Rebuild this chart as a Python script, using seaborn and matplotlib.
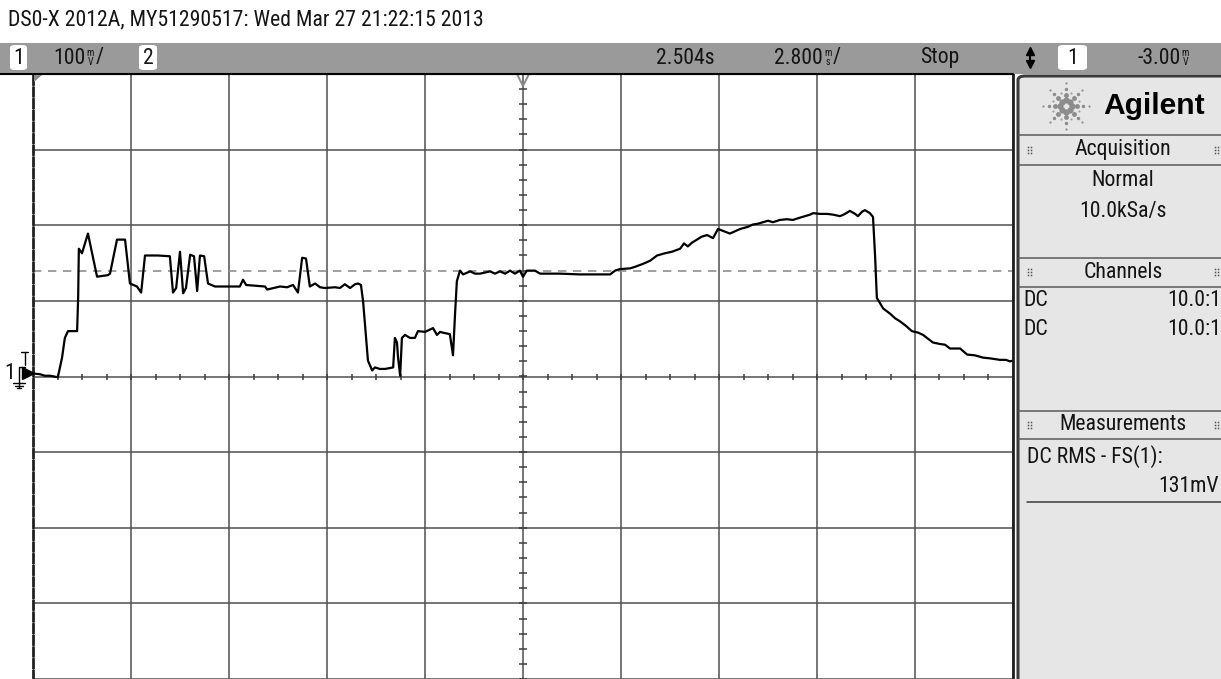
import numpy as np
import pandas as pd
import matplotlib
matplotlib.use("Agg")
import matplotlib.pyplot as plt
import seaborn as sns
from matplotlib import font_manager
from matplotlib.patches import Rectangle, FancyBboxPatch, Polygon
from matplotlib.lines import Line2D

# ---------------------------------------------------------------- data
# channel 1 capture: time relative to trigger (ms) and voltage (mV)
time_ms = [-14.00, -13.80, -13.66, -13.51, -13.29, -13.17, -13.09, -13.00, -12.74, -12.71,
           -12.69, -12.60, -12.43, -12.31, -12.17, -11.86, -11.80, -11.60, -11.37, -11.23,
           -11.03, -10.91, -10.80, -10.43, -10.09, -10.00, -9.91, -9.80, -9.71, -9.63,
           -9.51, -9.40, -9.31, -9.23, -9.11, -9.00, -8.80, -8.09, -8.00, -7.91,
           -7.37, -7.31, -6.94, -6.74, -6.57, -6.43, -6.31, -6.20, -6.09, -5.94,
           -5.80, -5.66, -5.37, -5.23, -5.09, -4.94, -4.80, -4.71, -4.63, -4.57,
           -4.43, -4.31, -4.23, -4.09, -3.94, -3.71, -3.66, -3.60, -3.57, -3.51,
           -3.46, -3.37, -3.23, -3.09, -3.00, -2.80, -2.66, -2.57, -2.46, -2.37,
           -2.29, -2.09, -2.00, -1.94, -1.89, -1.80, -1.71, -1.51, -1.37, -1.23,
           -0.94, -0.80, -0.66, -0.51, -0.37, -0.23, -0.09, 0.00, 0.11, 0.34,
           0.49, 1.06, 1.63, 2.20, 2.49, 2.63, 2.77, 3.06, 3.20, 3.43,
           3.63, 3.83, 4.06, 4.26, 4.49, 4.60, 4.71, 4.83, 4.97, 5.11,
           5.26, 5.43, 5.57, 5.69, 5.91, 6.20, 6.43, 6.57, 6.71, 6.86,
           7.00, 7.14, 7.34, 7.54, 7.71, 7.91, 8.06, 8.20, 8.29, 8.49,
           8.69, 8.86, 9.06, 9.20, 9.34, 9.49, 9.57, 9.69, 9.77, 9.91,
           10.00, 10.06, 10.11, 10.29, 10.49, 10.63, 10.77, 10.94, 11.11, 11.29,
           11.43, 11.57, 11.71, 11.91, 12.06, 12.20, 12.34, 12.49, 12.69, 12.91,
           13.14, 13.34, 13.63, 13.80, 13.91, 14.00]
ch1_mv = [4, 3, 1, 1, -1, 25, 51, 60, 60, 104,
          169, 163, 189, 163, 132, 134, 136, 181, 181, 123,
          119, 111, 160, 160, 159, 111, 117, 165, 110, 117,
          161, 159, 113, 160, 159, 123, 119, 119, 128, 121,
          119, 115, 119, 118, 121, 111, 157, 156, 119, 123,
          118, 117, 118, 117, 122, 117, 122, 123, 121, 100,
          21, 8, 12, 10, 10, 12, 51, 45, 25, 1,
          51, 55, 51, 51, 60, 59, 62, 64, 55, 59,
          58, 56, 28, 84, 126, 140, 135, 139, 136, 136,
          139, 136, 139, 136, 140, 136, 140, 132, 140, 140,
          136, 136, 135, 135, 135, 140, 142, 143, 145, 149,
          153, 160, 163, 165, 169, 176, 172, 177, 181, 185,
          187, 183, 195, 193, 189, 195, 198, 201, 202, 204,
          206, 204, 207, 208, 207, 210, 212, 214, 216, 215,
          215, 214, 212, 215, 219, 215, 212, 218, 220, 216,
          211, 159, 104, 90, 83, 77, 73, 67, 60, 58,
          55, 50, 45, 43, 42, 37, 37, 37, 29, 28,
          25, 24, 22, 22, 20, 21]

MS_PER_DIV = 2.8
MV_PER_DIV = 100
TRIGGER_LEVEL_MV = 139

header_text = "DS0-X 2012A, MY51290517: Wed Mar 27 21:22:15 2013"
ch1_scale = "100"
time_delay = "2.504s"
time_scale = "2.800"
run_state = "Stop"
ch1_offset = "-3.00"
acq_mode = "Normal"
sample_rate = "10.0kSa/s"
probe_ratio = "10.0:1"
meas_label = "DC RMS - FS(1):"
meas_value = "131mV"

# ---------------------------------------------------------------- fonts
_installed = {f.name for f in font_manager.fontManager.ttflist}


def pick(*names):
    for n in names:
        if n in _installed:
            return n
    return "DejaVu Sans"


NARROW = pick("Liberation Sans Narrow", "DejaVu Sans Condensed", "Roboto Condensed",
              "Liberation Sans", "Roboto")
BOLD = pick("Liberation Sans", "Roboto", "DejaVu Sans")

sns.set_style("white")
plt.rcParams["font.family"] = [NARROW, "DejaVu Sans"]

W, H, DPI = 1221, 679, 100
fig = plt.figure(figsize=(W / DPI, H / DPI), dpi=DPI)
fig.patch.set_facecolor("white")
renderer = fig.canvas.get_renderer()


def fx(x):
    return x / W


def fy(y):
    return 1 - y / H


def width_of(s, family, size, weight="normal"):
    t = fig.text(0, 0, s, family=family, fontsize=size, weight=weight)
    w = t.get_window_extent(renderer).width
    t.remove()
    return w


# one text size for the whole display, sized from the header line
FS = min(16.5, 10 * 472 / width_of(header_text, NARROW, 10))
INK = "#141414"


def label(x, y, s, ha="left", size=None, **kw):
    return fig.text(fx(x), fy(y), s, ha=ha, va="center", fontsize=size or FS,
                    family=[NARROW, "DejaVu Sans"], color=kw.pop("color", INK), **kw)


def right_edge(t):
    """Right end of a drawn text, in picture pixels from the left."""
    return t.get_window_extent(renderer).x1


def stacked_unit(x, y, top, bottom):
    label(x, y - 5, top, ha="center", size=FS * 0.46)
    label(x, y + 4, bottom, ha="center", size=FS * 0.46)


def value_with_unit(x, y, value, top, bottom, slash=True):
    t = label(x, y, value)
    ux = right_edge(t) + 5
    stacked_unit(ux, y, top, bottom)
    if slash:
        label(ux + 5, y, "/")


# ---------------------------------------------------------------- screen grid
ax = fig.add_axes([fx(33), 0, fx(1013) - fx(33), fy(74)])
ax.set_xlim(-5 * MS_PER_DIV, 5 * MS_PER_DIV)
ax.set_ylim(-3.934 * MV_PER_DIV, 4 * MV_PER_DIV)
ax.set_xticks(np.arange(-5, 5.01, 1) * MS_PER_DIV)
ax.set_yticks(np.arange(-4, 4.01, 1) * MV_PER_DIV)
ax.tick_params(length=0, labelbottom=False, labelleft=False)
ax.grid(True, color="#4f4f4f", lw=1.1)

# sub-division ticks along the centre lines
sub_t = np.arange(-5, 5.001, 0.25) * MS_PER_DIV
sub_v = np.arange(-4, 4.001, 0.2) * MV_PER_DIV
ax.plot(sub_t, np.zeros_like(sub_t), ls="none", marker="|", ms=5, mew=1.1, color="#3c3c3c")
ax.plot(np.zeros_like(sub_v), sub_v, ls="none", marker="_", ms=6, mew=1.1, color="#3c3c3c")

# trigger level
ax.axhline(TRIGGER_LEVEL_MV, color="#8f8f8f", lw=1.2, ls=(0, (5, 4)))

# waveform
df = pd.DataFrame({"t": time_ms, "v": ch1_mv})
sns.lineplot(data=df, x="t", y="v", ax=ax, color="black", lw=1.6,
             estimator=None, sort=False)
ax.set_xlabel("")
ax.set_ylabel("")

ax.spines["bottom"].set_visible(False)
ax.spines["left"].set_color("#202020")
ax.spines["left"].set_linewidth(2)
ax.spines["left"].set_linestyle((0, (3, 1.2)))
ax.spines["right"].set_color("#202020")
ax.spines["right"].set_linewidth(2)
ax.spines["top"].set_color("black")
ax.spines["top"].set_linewidth(1.5)

# trigger time marker at the top of the screen
ax.plot([0], [4 * MV_PER_DIV - 6], marker="v", ms=10, mfc="none", mec="#8a8a8a",
        mew=1.4, clip_on=False)

# ---------------------------------------------------------------- status bar
fig.patches.append(Rectangle((0, fy(74)), 1, fy(43) - fy(74), transform=fig.transFigure,
                             facecolor="#9a9a9a", edgecolor="none", zorder=0))
fig.lines.append(Line2D([0, fx(1013)], [fy(74), fy(74)], transform=fig.transFigure,
                        color="black", lw=1.5))


def key_box(x0, x1, text):
    fig.patches.append(FancyBboxPatch((fx(x0), fy(70)), fx(x1) - fx(x0), fy(45) - fy(70),
                                      boxstyle="round,pad=0,rounding_size=0.004",
                                      transform=fig.transFigure, facecolor="white",
                                      edgecolor="none", zorder=1))
    label((x0 + x1) / 2, 58, text, ha="center", zorder=2)


key_box(10, 27, "1")
value_with_unit(53, 58, ch1_scale, "m", "V")
key_box(139, 157, "2")
label(685, 58, time_delay, ha="center")
value_with_unit(774, 58, time_scale, "m", "s")
label(940, 58, run_state, ha="center")
fig.lines.append(Line2D([fx(1030)], [fy(51)], transform=fig.transFigure, marker="^",
                        ms=6, color="black"))
fig.lines.append(Line2D([fx(1030)], [fy(64)], transform=fig.transFigure, marker="v",
                        ms=6, color="black"))
fig.lines.append(Line2D([fx(1030), fx(1030)], [fy(51), fy(64)], transform=fig.transFigure,
                        color="black", lw=1.5))
key_box(1058, 1087, "1")
value_with_unit(1137, 58, ch1_offset, "m", "V", slash=False)

# ground / channel marker on the left edge
label(10, 373, "1", ha="center")
fig.lines.append(Line2D([fx(28)], [fy(373)], transform=fig.transFigure, marker=">",
                        ms=9, color="black"))
fig.lines.append(Line2D([fx(19), fx(19), fx(25)], [fy(387), fy(367), fy(367)],
                        transform=fig.transFigure, color="black", lw=1))
fig.lines.append(Line2D([fx(21), fx(28)], [fy(352), fy(352)], transform=fig.transFigure,
                        color="black", lw=1))
fig.lines.append(Line2D([fx(24.5), fx(24.5)], [fy(352), fy(365)], transform=fig.transFigure,
                        color="black", lw=1))
for i, half in enumerate((6, 4, 2)):
    yy = 383 + 2.5 * i
    fig.lines.append(Line2D([fx(19 - half), fx(19 + half)], [fy(yy), fy(yy)],
                            transform=fig.transFigure, color="black", lw=1))

# small time-reference wedge at the top-left corner of the screen
fig.patches.append(Polygon([(fx(34), fy(75)), (fx(42), fy(75)), (fx(34), fy(82))],
                           closed=True, transform=fig.transFigure, facecolor="#8a8a8a",
                           edgecolor="none", zorder=5))

# ---------------------------------------------------------------- side panel
fig.patches.append(FancyBboxPatch((fx(1018), fy(690)), fx(1240) - fx(1018), fy(76) - fy(690),
                                  boxstyle="round,pad=0,rounding_size=0.006",
                                  transform=fig.transFigure, facecolor="#e6e6e6",
                                  edgecolor="#3a3a3a", lw=2.2, zorder=1))
for yy in (135, 165, 258, 287, 411, 439):
    fig.lines.append(Line2D([fx(1019), 1], [fy(yy), fy(yy)], transform=fig.transFigure,
                            color="#5a5a5a", lw=1.1, zorder=3))
fig.lines.append(Line2D([fx(1027), 1], [fy(502), fy(502)], transform=fig.transFigure,
                        color="#3a3a3a", lw=1.1, zorder=3))

# starburst logo
cx, cy = 1066, 106
for k in range(8):
    a = np.deg2rad(45 * k)
    for r, s in ((6, 4.5), (11, 3.5), (17, 2.5), (23, 1.6)):
        fig.lines.append(Line2D([fx(cx + r * np.cos(a))], [fy(cy + r * np.sin(a))],
                                transform=fig.transFigure, marker="o", ms=s,
                                color="#8c8c8c", mec="none", zorder=4))
for k in range(8):
    a = np.deg2rad(45 * k + 22.5)
    fig.lines.append(Line2D([fx(cx + 14 * np.cos(a))], [fy(cy + 14 * np.sin(a))],
                            transform=fig.transFigure, marker="o", ms=1.6,
                            color="#a0a0a0", mec="none", zorder=4))

agilent_size = min(22, 14 * 102 / width_of("Agilent", BOLD, 14, "bold"))
fig.text(fx(1103), fy(106), "Agilent", ha="left", va="center", fontsize=agilent_size,
         family=BOLD, weight="bold", color="black", zorder=5)


def grip(x, y):
    for dx in (0, 3):
        for dy in (-3, 0, 3):
            fig.lines.append(Line2D([fx(x + dx)], [fy(y + dy)], transform=fig.transFigure,
                                    marker="s", ms=1.1, color="#555555", mec="none", zorder=4))


for yy, title in ((150, "Acquisition"), (272, "Channels"), (425, "Measurements")):
    grip(1028, yy)
    grip(1215, yy)
    label(1123, yy, title, ha="center", zorder=5)

label(1123, 181, acq_mode, ha="center", zorder=5)
label(1123, 212, sample_rate, ha="center", zorder=5)
for yy in (300, 329):
    label(1023, yy, "DC", zorder=5)
    label(1221, yy, probe_ratio, ha="right", zorder=5)
label(1027, 457, meas_label, zorder=5)
label(1219, 486, meas_value, ha="right", zorder=5)

# ---------------------------------------------------------------- title line
label(8, 20, header_text)

fig.savefig("out.png", dpi=DPI)
